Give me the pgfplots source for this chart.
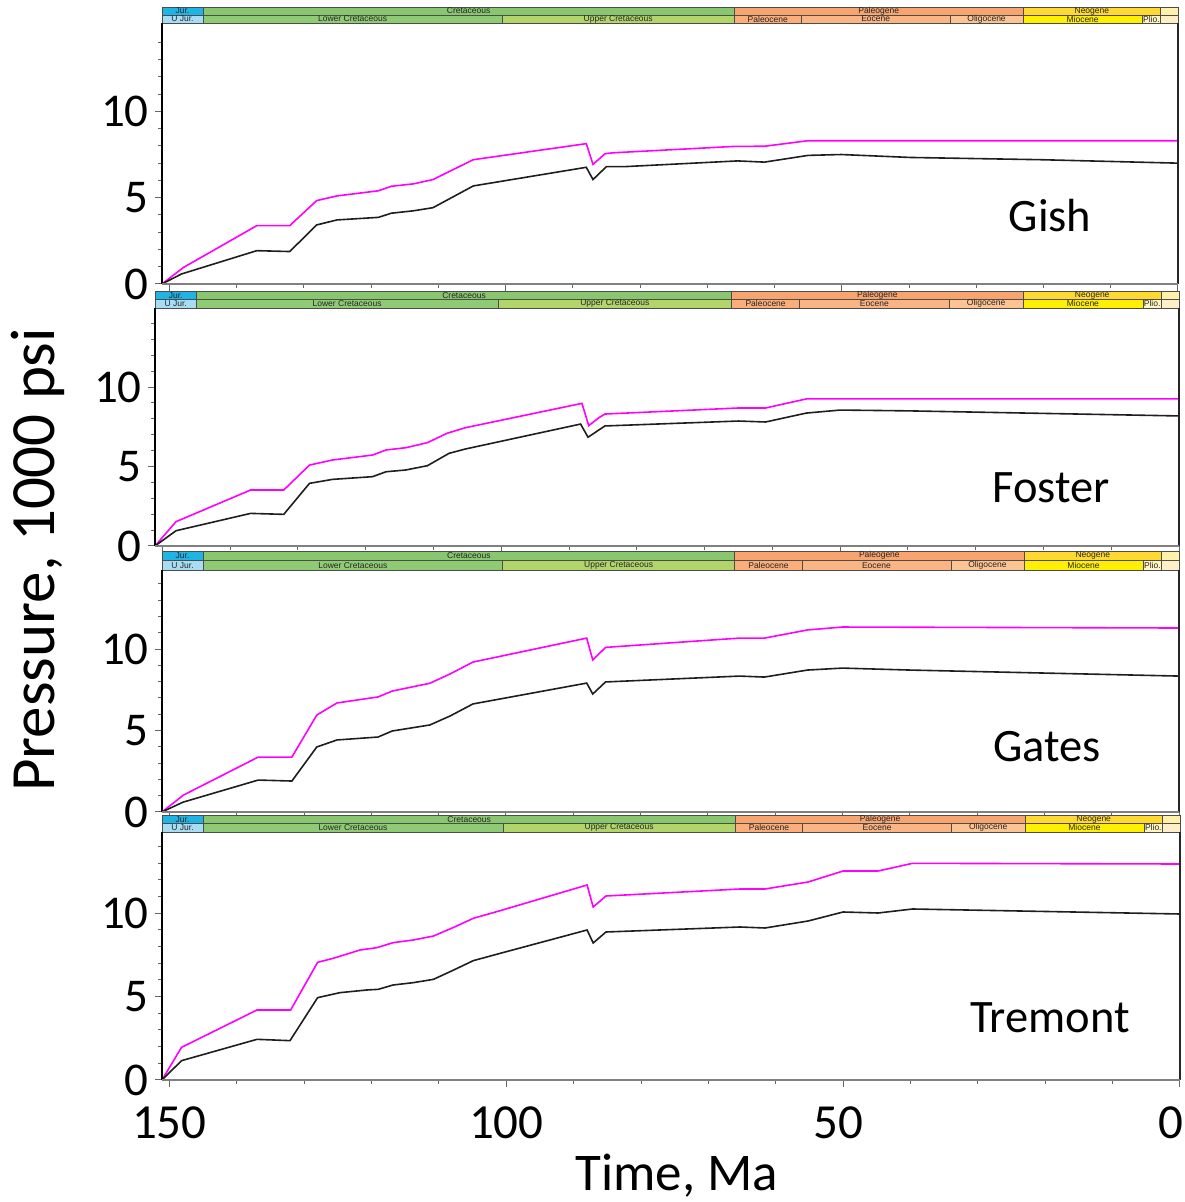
\documentclass[border=0pt]{standalone}
\usepackage{fontspec}
\setmainfont{Carlito}
\newfontfamily\arialf{Liberation Sans}
\usepackage{pgfplots}
\pgfplotsset{compat=1.18}

\definecolor{pinkc}{HTML}{FF00FF}
\definecolor{blackc}{HTML}{1E1E1E}
\definecolor{cJur}{HTML}{1EB4E6}
\definecolor{cUJur}{HTML}{A8DCF2}
\definecolor{cCret}{HTML}{88C76E}
\definecolor{cLCret}{HTML}{8FCB74}
\definecolor{cUCret}{HTML}{B2D56A}
\definecolor{cPaleog}{HTML}{F8A46E}
\definecolor{cPaleoc}{HTML}{FBAE7A}
\definecolor{cEoc}{HTML}{FBB483}
\definecolor{cOlig}{HTML}{FCC492}
\definecolor{cNeog}{HTML}{FFD92F}
\definecolor{cMioc}{HTML}{FFEF00}
\definecolor{cPlio}{HTML}{FFF6C2}
\definecolor{cQuat}{HTML}{FFF0AA}
\definecolor{cPleis}{HTML}{FFEFC8}

\newcommand\tsfont{\arialf\fontsize{8.5}{8.5}\selectfont}
% #1 from Ma, #2 to Ma, #3 low shift, #4 high shift, #5 colour, #6 text
\newcommand\cell[6]{%
  \draw[draw=black!70, line width=0.6pt, fill=#5] ([yshift=#3]axis cs:#1,\ym) rectangle ([yshift=#4]axis cs:#2,\ym);
  \path ([yshift=#3]axis cs:#1,\ym) -- ([yshift=#4]axis cs:#2,\ym) node[midway, inner sep=0pt, font=\tsfont, text=black!85] {#6};
}
\newcommand\timebar{%
  \cell{151.1}{145}{\bhb}{\bhc}{cJur}{Jur.}
  \cell{145}{66}{\bhb}{\bhc}{cCret}{Cretaceous}
  \cell{66}{23.03}{\bhb}{\bhc}{cPaleog}{Paleogene}
  \cell{23.03}{2.58}{\bhb}{\bhc}{cNeog}{Neogene}
  \cell{2.58}{0}{\bhb}{\bhc}{cQuat}{}
  \cell{151.1}{145}{0pt}{\bhb}{cUJur}{U Jur.}
  \cell{145}{100.5}{0pt}{\bhb}{cLCret}{Lower Cretaceous}
  \cell{100.5}{66}{0pt}{\bhb}{cUCret}{Upper Cretaceous}
  \cell{66}{56}{0pt}{\bhb}{cPaleoc}{Paleocene}
  \cell{56}{33.9}{0pt}{\bhb}{cEoc}{Eocene}
  \cell{33.9}{23.03}{0pt}{\bhb}{cOlig}{Oligocene}
  \cell{23.03}{5.33}{0pt}{\bhb}{cMioc}{Miocene}
  \cell{5.33}{2.58}{0pt}{\bhb}{cPlio}{Plio.}
  \cell{2.58}{0}{0pt}{\bhb}{cPleis}{}
  \draw[black, line width=1.2pt] (axis description cs:0,0) -- (axis description cs:0,1);
  \draw[black!85, line width=1.2pt] (axis description cs:1,0) -- (axis description cs:1,1);
  \draw[gray, line width=2pt] (axis description cs:0,0) -- (axis description cs:1,0);
}

\pgfplotsset{panel/.style={
  scale only axis, anchor=south west, clip=false,
  x dir=reverse, xmin=0, xmax=151.1, ymin=0,
  axis line style={draw=none},
  tick pos=left, tick align=outside,
  xtick={0,50,100,150},
  minor xtick={10,20,30,40,60,70,80,90,110,120,130,140},
  ytick={0,5,10}, minor ytick={1,2,3,4,6,7,8,9,11,12,13,14},
  major tick length=7pt, minor tick length=4pt,
  every tick/.style={gray!80!black, line width=1pt},
  xticklabels={}, yticklabels={0,5,10},
  yticklabel style={font=\fontsize{47}{47}\selectfont, anchor=east, inner sep=0pt, xshift=-6pt},
}}

\begin{document}
\begin{tikzpicture}
\path[use as bounding box] (0pt,0pt) rectangle (1185pt,1202pt);

% ---------------- Gish
\def\ym{15.12}\def\bhb{8pt}\def\bhc{16pt}
\begin{axis}[panel, at={(162pt,918pt)}, width=1016pt, height=261pt, ymax=15.12]
\addplot[pinkc, line width=1.6pt] coordinates {
(151.1,0) (147.9,0.96) (137.0,3.38) (132.1,3.38) (128.1,4.83) (125.1,5.1)
(118.9,5.4) (117.0,5.66) (113.7,5.8) (110.8,6.05) (104.8,7.2) (88.0,8.13)
(87.0,6.93) (85.2,7.55) (84.0,7.6) (66.0,7.97) (61.5,7.98) (55.0,8.3) (0,8.3)};
\addplot[blackc, line width=1.6pt] coordinates {
(151.1,0) (148.2,0.58) (137,1.93) (132.1,1.88) (128.1,3.42) (125.1,3.71)
(118.9,3.86) (117,4.1) (113.7,4.24) (110.8,4.42) (104.8,5.68) (88,6.76)
(87,6.05) (85,6.8) (82.2,6.8) (65.5,7.13) (61.5,7.06) (55,7.45) (50.1,7.5)
(39.8,7.33) (20.4,7.2) (0,7.0)};
\timebar
\end{axis}

% ---------------- Foster
\def\ym{14.97}\def\bhb{8.5pt}\def\bhc{17pt}
\begin{axis}[panel, at={(155pt,656pt)}, width=1024pt, height=238pt, ymax=14.97]
\addplot[pinkc, line width=1.6pt] coordinates {
(151.1,0) (148.0,1.53) (137.0,3.52) (132.1,3.52) (128.3,5.09) (124.9,5.41)
(119.0,5.72) (117.0,6.04) (114.1,6.18) (110.9,6.5) (108.0,7.09) (105.3,7.44)
(88.1,8.97) (87.1,7.57) (85.6,8.07) (84.7,8.3) (65,8.68) (61,8.68) (55,9.25) (0,9.25)};
\addplot[blackc, line width=1.6pt] coordinates {
(151.1,0) (148,0.96) (137,2.05) (132.1,1.99) (128.3,3.94) (124.9,4.19)
(119,4.36) (117,4.67) (114.1,4.78) (110.9,5.05) (107.7,5.83) (105.3,6.1)
(88.3,7.67) (87.2,6.84) (85.6,7.3) (84.7,7.55) (65,7.86) (61,7.8) (55,8.36)
(50,8.55) (40,8.5) (0,8.18)};
\timebar
\end{axis}

% ---------------- Gates
\def\ym{14.85}\def\bhb{9.5pt}\def\bhc{19pt}
\begin{axis}[panel, at={(162pt,390pt)}, width=1017pt, height=242pt, ymax=14.85]
\addplot[pinkc, line width=1.6pt] coordinates {
(151.1,0) (147.9,1.04) (136.8,3.37) (131.8,3.37) (128.1,5.95) (125.1,6.69)
(119,7.06) (116.9,7.42) (111.3,7.9) (108.3,8.47) (104.9,9.2) (88,10.67)
(87.1,9.33) (85.2,10.1) (71.3,10.5) (65.3,10.67) (61.6,10.67) (55.2,11.17)
(50,11.35) (0,11.29)};
\addplot[blackc, line width=1.6pt] coordinates {
(151.1,0) (148,0.6) (136.8,1.96) (131.8,1.9) (128.1,3.99) (125.1,4.42)
(119,4.6) (116.9,4.97) (111.3,5.34) (108.3,5.89) (104.9,6.63) (88,7.91)
(87.1,7.24) (85.2,7.98) (65.3,8.34) (61.6,8.28) (55.2,8.71) (50,8.83)
(40,8.71) (0,8.34)};
\timebar
\end{axis}

% ---------------- Tremont
\def\ym{14.88}\def\bhb{8.5pt}\def\bhc{17pt}
\begin{axis}[panel, at={(162pt,122pt)}, width=1018pt, height=248pt, ymax=14.88,
  xticklabels={\hspace{-18pt}0,\hspace{-10pt}50,100,150\hspace{-16pt}},
  xticklabel style={font=\fontsize{49}{49}\selectfont, anchor=north, inner sep=0pt, yshift=-20pt}]
\addplot[pinkc, line width=1.6pt] coordinates {
(151.1,0) (148.2,1.96) (137,4.2) (132,4.2) (128,7.06) (125.7,7.3)
(121.7,7.8) (119.2,7.94) (116.8,8.24) (113.8,8.4) (110.8,8.64) (107.8,9.16)
(104.9,9.7) (100.9,10.16) (88,11.7) (87.1,10.38) (85.2,11.04) (65.3,11.46)
(61.6,11.46) (55.2,11.88) (50,12.54) (44.8,12.54) (39.7,13.0) (0,12.96)};
\addplot[blackc, line width=1.6pt] coordinates {
(151.1,0) (148.2,1.16) (137,2.44) (132.1,2.36) (128,4.94) (124.7,5.24)
(120.7,5.4) (119,5.44) (116.8,5.7) (113.8,5.84) (110.8,6.04) (107.8,6.6)
(104.9,7.16) (100.9,7.6) (88,9.0) (87.1,8.22) (85.2,8.88) (65.3,9.18)
(61.6,9.12) (55.2,9.54) (50,10.08) (44.8,10.02) (39.7,10.26) (0,9.96)};
\timebar
\end{axis}

% ---------------- labels
\node[anchor=base, font=\fontsize{46.5}{46.5}\selectfont, inner sep=0pt] at (1050pt,970pt) {Gish};
\node[anchor=base, font=\fontsize{46.5}{46.5}\selectfont, inner sep=0pt] at (1051pt,699pt) {Foster};
\node[anchor=base, font=\fontsize{46.5}{46.5}\selectfont, inner sep=0pt] at (1047pt,440pt) {Gates};
\node[anchor=base, font=\fontsize{46.5}{46.5}\selectfont, inner sep=0pt] at (1050pt,169pt) {Tremont};
\node[rotate=90, font=\fontsize{63}{63}\selectfont, inner sep=0pt] at (38pt,642pt) {Pressure, 1000 psi};
\node[font=\fontsize{53}{53}\selectfont, inner sep=0pt] at (677pt,26pt) {Time, Ma};
\end{tikzpicture}
\end{document}
